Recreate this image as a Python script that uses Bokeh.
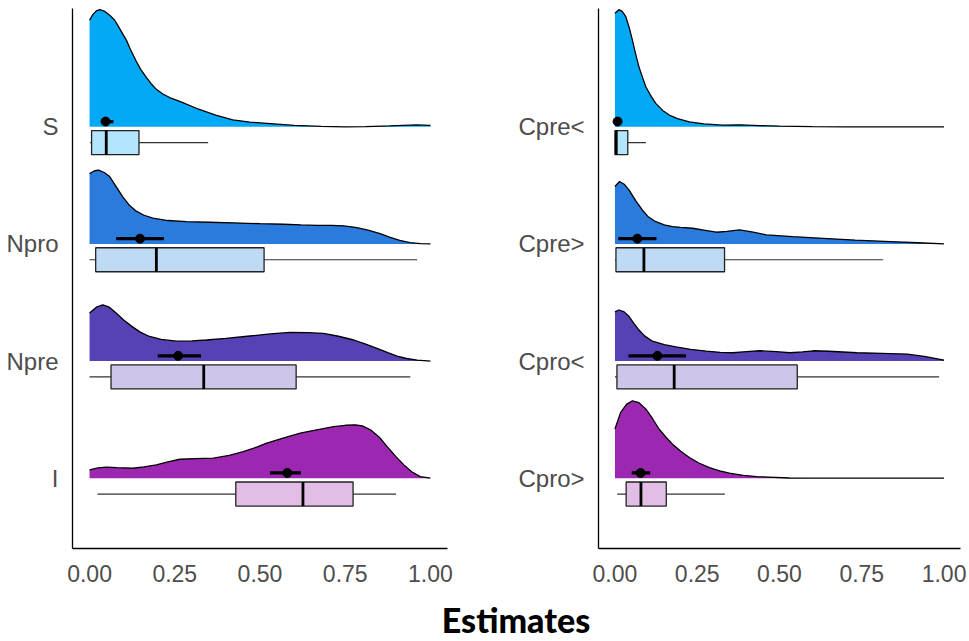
from bokeh.plotting import figure
from bokeh.models import FixedTicker, Range1d, Div, NumeralTickFormatter
from bokeh.layouts import row, column
from bokeh.embed import file_html
from bokeh.resources import INLINE

# ---------------- data ----------------
left_cats = ["S", "Npro", "Npre", "I"]
right_cats = ["Cpre<", "Cpre>", "Cpro<", "Cpro>"]

colors = ["#03A9F4", "#2A7BDB", "#5841B4", "#9C27B0"]
light = ["#B3E5FC", "#BFDAF5", "#CEC6E9", "#E2BEE6"]

# density (x, relative height)
S_x = [0, 0.01, 0.02, 0.03, 0.045, 0.06, 0.074, 0.09, 0.108, 0.12, 0.137, 0.15, 0.167, 0.18, 0.196, 0.215, 0.235, 0.27, 0.32, 0.37, 0.42, 0.47, 0.52, 0.6, 0.68, 0.75, 0.81, 0.88, 0.96, 1.0]
S_h = [0.91, 0.96, 0.99, 1.0, 0.985, 0.95, 0.91, 0.83, 0.74, 0.66, 0.56, 0.49, 0.42, 0.37, 0.32, 0.28, 0.25, 0.21, 0.15, 0.10, 0.06, 0.04, 0.03, 0.012, 0.003, 0.0, 0.002, 0.008, 0.016, 0.012]
Npro_x = [0, 0.015, 0.027, 0.043, 0.059, 0.078, 0.098, 0.117, 0.137, 0.16, 0.186, 0.23, 0.284, 0.35, 0.42, 0.5, 0.569, 0.62, 0.667, 0.71, 0.745, 0.78, 0.814, 0.85, 0.882, 0.91, 0.94, 0.97, 1.0]
Npro_h = [0.60, 0.625, 0.63, 0.61, 0.575, 0.49, 0.40, 0.33, 0.28, 0.245, 0.22, 0.20, 0.19, 0.185, 0.18, 0.173, 0.168, 0.162, 0.158, 0.158, 0.155, 0.142, 0.12, 0.09, 0.057, 0.03, 0.012, 0.003, 0.0]
Npre_x = [0, 0.02, 0.039, 0.058, 0.078, 0.1, 0.127, 0.15, 0.176, 0.21, 0.255, 0.3, 0.343, 0.4, 0.47, 0.53, 0.588, 0.64, 0.686, 0.73, 0.775, 0.81, 0.843, 0.875, 0.902, 0.93, 0.961, 1.0]
Npre_h = [0.41, 0.46, 0.48, 0.46, 0.41, 0.35, 0.29, 0.245, 0.21, 0.185, 0.17, 0.172, 0.18, 0.193, 0.214, 0.232, 0.245, 0.243, 0.236, 0.212, 0.18, 0.145, 0.108, 0.072, 0.043, 0.022, 0.009, 0.0]
I_x = [0, 0.025, 0.049, 0.08, 0.127, 0.16, 0.196, 0.23, 0.265, 0.31, 0.363, 0.41, 0.451, 0.49, 0.52, 0.57, 0.618, 0.67, 0.716, 0.75, 0.78, 0.8, 0.824, 0.85, 0.873, 0.9, 0.922, 0.945, 0.97, 1.0]
I_h = [0.071, 0.088, 0.094, 0.09, 0.085, 0.097, 0.114, 0.14, 0.162, 0.168, 0.171, 0.195, 0.228, 0.265, 0.3, 0.345, 0.385, 0.415, 0.44, 0.452, 0.456, 0.447, 0.413, 0.35, 0.27, 0.18, 0.114, 0.055, 0.014, 0.0]

CpreL_x = [0, 0.012, 0.022, 0.033, 0.043, 0.053, 0.063, 0.073, 0.084, 0.094, 0.11, 0.124, 0.145, 0.165, 0.19, 0.226, 0.27, 0.328, 0.379, 0.44, 0.5, 0.6, 0.7, 1.0]
CpreL_h = [0.97, 1.0, 0.985, 0.94, 0.85, 0.74, 0.62, 0.51, 0.42, 0.34, 0.26, 0.2, 0.14, 0.1, 0.07, 0.043, 0.025, 0.014, 0.017, 0.01, 0.006, 0.002, 0.0, 0.0]
CpreG_x = [0, 0.014, 0.028, 0.043, 0.063, 0.083, 0.1, 0.124, 0.15, 0.175, 0.2, 0.236, 0.27, 0.308, 0.34, 0.379, 0.42, 0.46, 0.54, 0.633, 0.73, 0.837, 0.92, 1.0]
CpreG_h = [0.49, 0.533, 0.51, 0.46, 0.37, 0.29, 0.235, 0.19, 0.162, 0.148, 0.142, 0.134, 0.118, 0.1, 0.108, 0.12, 0.1, 0.077, 0.062, 0.048, 0.033, 0.02, 0.01, 0.0]
CproL_x = [0, 0.012, 0.028, 0.043, 0.058, 0.073, 0.09, 0.114, 0.15, 0.185, 0.23, 0.277, 0.32, 0.358, 0.4, 0.44, 0.49, 0.532, 0.57, 0.603, 0.65, 0.735, 0.81, 0.888, 0.94, 1.0]
CproL_h = [0.42, 0.436, 0.42, 0.38, 0.32, 0.265, 0.215, 0.17, 0.14, 0.122, 0.1, 0.085, 0.075, 0.071, 0.08, 0.088, 0.08, 0.071, 0.078, 0.088, 0.084, 0.071, 0.066, 0.06, 0.04, 0.009]
CproG_x = [0, 0.017, 0.035, 0.053, 0.073, 0.094, 0.114, 0.134, 0.155, 0.175, 0.2, 0.226, 0.255, 0.287, 0.318, 0.348, 0.39, 0.43, 0.53, 0.6, 1.0]
CproG_h = [0.42, 0.56, 0.63, 0.66, 0.645, 0.59, 0.51, 0.42, 0.35, 0.29, 0.23, 0.177, 0.13, 0.091, 0.063, 0.043, 0.025, 0.014, 0.002, 0.0, 0.0]

# box plots: whisker low, q1, median, q3, whisker high
left_wlo = [0.002, 0.0, 0.0, 0.023]
left_q1 = [0.006, 0.018, 0.063, 0.429]
left_med = [0.049, 0.196, 0.335, 0.626]
left_q3 = [0.145, 0.512, 0.606, 0.773]
left_whi = [0.348, 0.961, 0.941, 0.899]
right_wlo = [0.0, 0.0, 0.0, 0.007]
right_q1 = [0.0, 0.003, 0.006, 0.034]
right_med = [0.004, 0.088, 0.18, 0.079]
right_q3 = [0.039, 0.333, 0.554, 0.156]
right_whi = [0.094, 0.815, 0.985, 0.334]

# point estimate with interval
left_pt = [0.047, 0.148, 0.26, 0.58]
left_lo = [0.04, 0.078, 0.2, 0.529]
left_hi = [0.07, 0.218, 0.327, 0.62]
right_pt = [0.008, 0.068, 0.129, 0.078]
right_lo = [0.003, 0.01, 0.041, 0.051]
right_hi = [0.015, 0.126, 0.216, 0.107]

x_ticks = [0, 0.25, 0.5, 0.75, 1.0]

LABEL_FONT = "Liberation Sans"
GRAY = "#4D4D4D"


def panel(cats, dens_x, dens_h, wlo, q1, med, q3, whi, pt, lo, hi,
          frame_w, border_l, border_r):
    p = figure(output_backend="svg", toolbar_location=None,
               frame_width=frame_w, frame_height=540,
               min_border_left=border_l, min_border_right=border_r,
               min_border_top=8, min_border_bottom=50,
               x_range=Range1d(-0.05, 1.05), y_range=Range1d(0.4, 5.01))
    n = len(cats)
    ys = [n - i for i in range(n)]
    for i in range(n):
        y0 = ys[i]
        xs_ = dens_x[i]
        top = [y0 + h for h in dens_h[i]]
        p.patch(xs_ + [xs_[-1], xs_[0]], top + [y0, y0],
                fill_color=colors[i], line_color=None)
        p.line(xs_, top, line_color="black", line_width=1.3)
        # box
        bc = y0 - 0.135
        bh = 0.205
        p.segment(x0=[wlo[i], q3[i]], y0=[bc, bc], x1=[q1[i], whi[i]], y1=[bc, bc],
                  line_color="#333333", line_width=1.2)
        p.quad(left=[q1[i]], right=[q3[i]], bottom=[bc - bh / 2], top=[bc + bh / 2],
               fill_color=light[i], line_color="#222222", line_width=1.3)
        p.segment(x0=[med[i]], y0=[bc - bh / 2], x1=[med[i]], y1=[bc + bh / 2],
                  line_color="black", line_width=2.8)
        # interval
        py = y0 + 0.045
        p.segment(x0=[lo[i]], y0=[py], x1=[hi[i]], y1=[py],
                  line_color="black", line_width=3.2)
        p.scatter(x=[pt[i]], y=[py], size=9, fill_color="black", line_color="black")

    p.xgrid.visible = False
    p.ygrid.visible = False
    p.outline_line_color = None
    p.xaxis.ticker = FixedTicker(ticks=x_ticks)
    p.xaxis.formatter = NumeralTickFormatter(format="0.00")
    p.yaxis.ticker = FixedTicker(ticks=ys)
    p.yaxis.major_label_overrides = {ys[i]: cats[i] for i in range(n)}
    for ax in (p.xaxis, p.yaxis):
        ax.axis_line_color = "black"
        ax.axis_line_width = 1.3
        ax.major_tick_line_color = None
        ax.minor_tick_line_color = None
        ax.major_label_text_font = LABEL_FONT
        ax.major_label_text_color = GRAY
    p.xaxis.major_label_text_font_size = "23px"
    p.yaxis.major_label_text_font_size = "24px"
    p.xaxis.major_label_standoff = 10
    p.yaxis.major_label_standoff = 8
    return p


p1 = panel(left_cats, [S_x, Npro_x, Npre_x, I_x], [S_h, Npro_h, Npre_h, I_h],
           left_wlo, left_q1, left_med, left_q3, left_whi, left_pt, left_lo, left_hi,
           375, 72, 20)
p2 = panel(right_cats, [CpreL_x, CpreG_x, CproL_x, CproG_x], [CpreL_h, CpreG_h, CproL_h, CproG_h],
           right_wlo, right_q1, right_med, right_q3, right_whi, right_pt, right_lo, right_hi,
           362, 131, 8)

title = Div(text="Estimates", width=888, height=36, margin=(4, 0, 0, 72),
            styles={"font-family": "Lato", "font-weight": "900", "font-size": "34px",
                    "text-align": "center", "color": "black", "line-height": "36px"})

layout = column(row(p1, p2), title)
open("out.html", "w").write(file_html(layout, INLINE))
